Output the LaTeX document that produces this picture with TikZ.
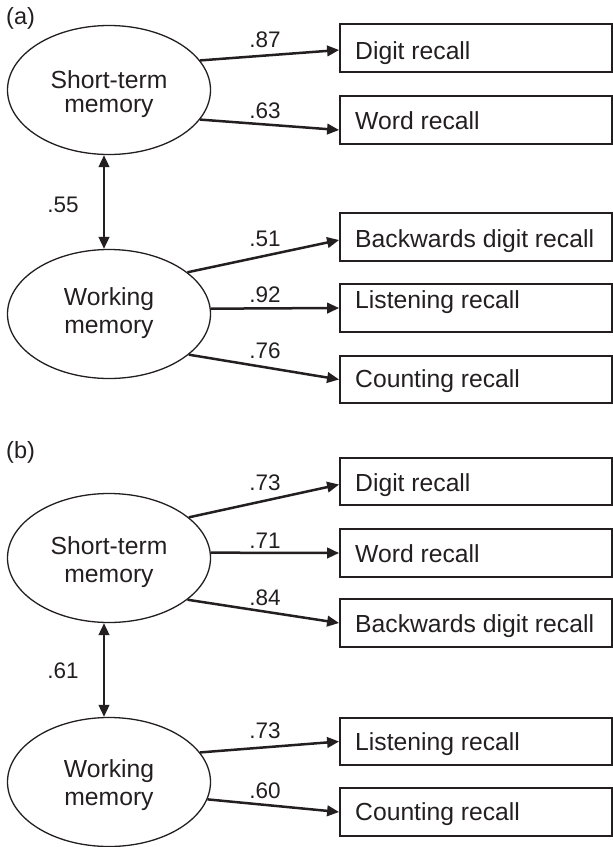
\documentclass[tikz,border=0pt]{standalone}
\usepackage{fontspec}
\setmainfont{Liberation Sans}
\usetikzlibrary{arrows.meta,shapes.geometric}
\definecolor{ink}{RGB}{35,31,32}
\begin{document}
\begin{tikzpicture}[x=1pt,y=-1pt,
  latent/.style={ellipse, draw=ink, line width=1.3pt, minimum width=203pt, minimum height=129pt, inner sep=0pt},
  obs/.style={rectangle, draw=ink, line width=1.8pt, minimum width=272pt, minimum height=47.5pt, inner sep=0pt},
  boxtxt/.style={anchor=base west, inner sep=0pt, font=\fontsize{24.7}{24}\selectfont, text=ink},
  lattxt/.style={anchor=north, inner sep=0pt, align=center, text=ink},
  coef/.style={anchor=base, inner sep=0pt, font=\fontsize{22.5}{23}\selectfont, text=ink},
  panel/.style={anchor=base west, inner sep=0pt, font=\fontsize{23.5}{24}\selectfont, text=ink},
  arr/.style={draw=ink, line width=2.5pt, -{Triangle[length=12pt,width=10.5pt]}},
  dbl/.style={draw=ink, line width=2.5pt, {Triangle[length=12pt,width=10.5pt]}-{Triangle[length=12pt,width=10.5pt]}}]
\useasboundingbox (0,0) rectangle (613,847);

% ---------- panel (a) ----------
\node[panel] (pa) at (6,24) {(a)};
\node[latent] (stmA) at (109,90) {};
\node[lattxt, font=\fontsize{24.7}{24}\selectfont] (stmAt) at (109,70) {Short-term\\memory};
\node[latent] (wmA) at (109,314) {};
\node[lattxt, font=\fontsize{24.7}{28.3}\selectfont] (wmAt) at (109,287) {Working\\memory};

\node[obs] (digA) at (476,48) {};
\node[boxtxt] (digAt) at (355,59) {Digit recall};
\node[obs] (wordA) at (476,120) {};
\node[boxtxt] (wordAt) at (355,129) {Word recall};
\node[obs] (bdrA) at (476,237) {};
\node[boxtxt] (bdrAt) at (355,247) {Backwards digit recall};
\node[obs] (lisA) at (476,308) {};
\node[boxtxt] (lisAt) at (355,308) {Listening recall};
\node[obs] (cntA) at (476,379.5) {};
\node[boxtxt] (cntAt) at (355,387) {Counting recall};

\draw[arr] (stmA.18) -- ([yshift=-2pt]digA.west);
\draw[arr] (stmA.-18) -- ([yshift=-10pt]wordA.west);
\draw[arr] (wmA.28) -- ([yshift=-3pt]bdrA.west);
\draw[arr] (wmA.3) -- (lisA.west);
\draw[arr] (wmA.-27) -- (cntA.west);
\draw[dbl] ([xshift=-5pt]stmA.south) -- ([xshift=-5pt]wmA.north);

\node[coef] (cA1) at (265,47) {.87};
\node[coef] (cA2) at (265,118) {.63};
\node[coef] (cA3) at (265,246.5) {.51};
\node[coef] (cA4) at (265,302) {.92};
\node[coef] (cA5) at (265,358) {.76};
\node[coef] (cA6) at (63,212) {.55};

% ---------- panel (b) ----------
\node[panel] (pb) at (6,458) {(b)};
\node[latent] (stmB) at (109,558) {};
\node[lattxt, font=\fontsize{24.7}{28}\selectfont] (stmBt) at (109,536) {Short-term\\memory};
\node[latent] (wmB) at (109,782) {};
\node[lattxt, font=\fontsize{24.7}{28.3}\selectfont] (wmBt) at (109,759) {Working\\memory};

\node[obs] (digB) at (476,481.5) {};
\node[boxtxt] (digBt) at (355,491) {Digit recall};
\node[obs] (wordB) at (476,553) {};
\node[boxtxt] (wordBt) at (355,562) {Word recall};
\node[obs] (bdrB) at (476,623) {};
\node[boxtxt] (bdrBt) at (355,632) {Backwards digit recall};
\node[obs] (lisB) at (476,741.5) {};
\node[boxtxt] (lisBt) at (355,750) {Listening recall};
\node[obs] (cntB) at (476,812) {};
\node[boxtxt] (cntBt) at (355,820) {Counting recall};

\draw[arr] (stmB.27) -- ([yshift=-3pt]digB.west);
\draw[arr] (stmB.3) -- (wordB.west);
\draw[arr] (stmB.-28) -- (bdrB.west);
\draw[arr] (wmB.18) -- (lisB.west);
\draw[arr] (wmB.-10) -- (cntB.west);
\draw[dbl] ([xshift=-5pt]stmB.south) -- ([xshift=-5pt]wmB.north);

\node[coef] (cB1) at (265,490.5) {.73};
\node[coef] (cB2) at (265,548) {.71};
\node[coef] (cB3) at (265,605) {.84};
\node[coef] (cB4) at (265,738) {.73};
\node[coef] (cB5) at (265,798) {.60};
\node[coef] (cB6) at (63,678) {.61};
\end{tikzpicture}
\end{document}
